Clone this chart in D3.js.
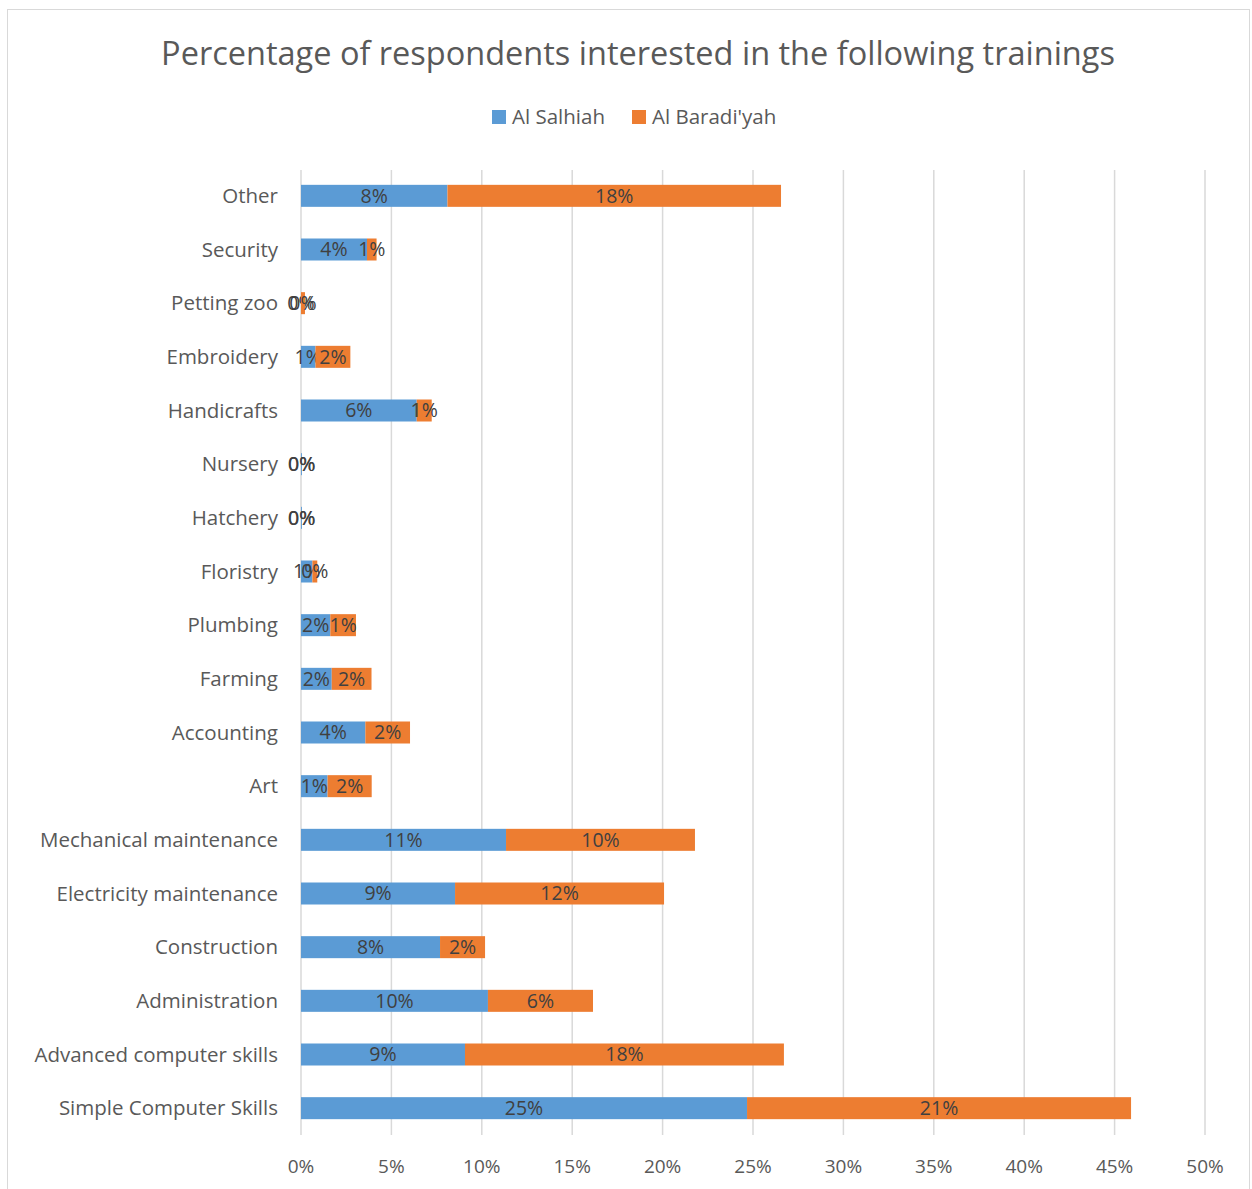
<!DOCTYPE html>
<html>
<head>
<meta charset="utf-8">
<script src="https://cdn.jsdelivr.net/npm/d3@7"></script>
<style>
  body { margin: 0; background: #fff; }
  text { font-family: "Open Sans", "Noto Sans", sans-serif; }
</style>
</head>
<body>
<div id="chart"></div>
<script>
// categories top to bottom
var categories = ['Other', 'Security', 'Petting zoo', 'Embroidery', 'Handicrafts', 'Nursery',
    'Hatchery', 'Floristry', 'Plumbing', 'Farming', 'Accounting', 'Art',
    'Mechanical maintenance', 'Electricity maintenance', 'Construction', 'Administration',
    'Advanced computer skills', 'Simple Computer Skills'];
var series = ['Al Salhiah', "Al Baradi'yah"];
// values in percent
var salhiah = [8.1, 3.65, 0, 0.8, 6.4, 0.05, 0.05, 0.63, 1.62, 1.7, 3.56, 1.47,
    11.34, 8.52, 7.69, 10.34, 9.07, 24.67];
var baradiyah = [18.45, 0.53, 0.22, 1.93, 0.83, 0, 0, 0.27, 1.42, 2.2, 2.47, 2.44,
    10.45, 11.56, 2.49, 5.81, 17.64, 21.24];
var ticks = [0, 5, 10, 15, 20, 25, 30, 35, 40, 45, 50];

var width = 1252, height = 1189,
    svg = d3.select('#chart').append('svg')
        .attr('width', width)
        .attr('height', height);

var color = d3.scaleOrdinal().domain(series).range(['#5B9BD5', '#ED7D31']);

// frame
svg.append('rect')
    .attr('x', 7.5).attr('y', 9.5)
    .attr('width', 1242).attr('height', 1200)
    .attr('fill', 'none').attr('stroke', '#d9d9d9');

// title
svg.append('text')
    .attr('x', 638).attr('y', 65)
    .attr('text-anchor', 'middle')
    .attr('font-size', 32.5)
    .attr('fill', '#595959')
    .text('Percentage of respondents interested in the following trainings');

var x = d3.scaleLinear().domain([0, 50]).range([301, 1205]);
var y = d3.scaleBand().domain(categories).range([169, 1135]).paddingInner(0.59).paddingOuter(0.295);

// gridlines
svg.append('g').selectAll('line')
    .data(ticks)
    .enter().append('line')
    .attr('x1', function (d) { return x(d); })
    .attr('x2', function (d) { return x(d); })
    .attr('y1', 170).attr('y2', 1135)
    .attr('stroke', '#d9d9d9').attr('stroke-width', 1.5);

// tick labels
svg.append('g').selectAll('text')
    .data(ticks)
    .enter().append('text')
    .attr('x', function (d) { return x(d); })
    .attr('y', 1173)
    .attr('text-anchor', 'middle')
    .attr('font-size', 19)
    .attr('fill', '#595959')
    .text(function (d) { return d + '%'; });

// category labels
svg.append('g').selectAll('text')
    .data(categories)
    .enter().append('text')
    .attr('x', 278)
    .attr('y', function (d) { return y(d) + y.bandwidth() / 2; })
    .attr('dy', '0.35em')
    .attr('text-anchor', 'end')
    .attr('font-size', 20.5)
    .attr('fill', '#595959')
    .text(function (d) { return d; });

// stacked data
var rows = categories.map(function (c, i) {
    return { cat: c, 'Al Salhiah': salhiah[i], "Al Baradi'yah": baradiyah[i] };
});
var stack = d3.stack().keys(series)(rows);

var layers = svg.append('g').selectAll('g')
    .data(stack)
    .enter().append('g')
    .attr('fill', function (d) { return color(d.key); });

layers.selectAll('rect')
    .data(function (d) { return d; })
    .enter().append('rect')
    .attr('x', function (d) { return x(d[0]); })
    .attr('y', function (d) { return y(d.data.cat); })
    .attr('width', function (d) { return x(d[1]) - x(d[0]); })
    .attr('height', y.bandwidth());

// data labels, centred in each segment
layers.selectAll('text')
    .data(function (d) { return d; })
    .enter().append('text')
    .attr('x', function (d) { return (x(d[0]) + x(d[1])) / 2; })
    .attr('y', function (d) { return y(d.data.cat) + y.bandwidth() / 2; })
    .attr('dy', '0.35em')
    .attr('text-anchor', 'middle')
    .attr('font-size', 19.5)
    .attr('fill', '#404040')
    .text(function (d) { return Math.round(d[1] - d[0]) + '%'; });

// legend
var legend = svg.append('g').selectAll('g')
    .data(series)
    .enter().append('g')
    .attr('transform', function (d, i) { return 'translate(' + (492 + i * 140) + ',110)'; });
legend.append('rect')
    .attr('width', 14).attr('height', 14)
    .attr('fill', function (d) { return color(d); });
legend.append('text')
    .attr('x', 20).attr('y', 7)
    .attr('dy', '0.35em')
    .attr('font-size', 20.5)
    .attr('fill', '#595959')
    .text(function (d) { return d; });
</script>
</body>
</html>
